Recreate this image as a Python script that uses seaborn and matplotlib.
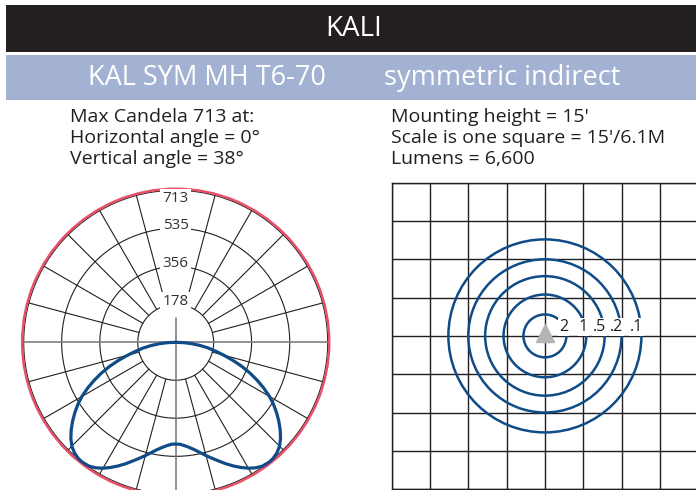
import numpy as np
import seaborn as sns
import matplotlib.pyplot as plt
from matplotlib.patches import Rectangle, Circle
from matplotlib.transforms import offset_copy

# header / info text
title = 'KALI'
model = 'KAL SYM MH T6-70'
distribution = 'symmetric indirect'
left_info = ['Max Candela 713 at:', 'Horizontal angle = 0°', 'Vertical angle = 38°']
right_info = ["Mounting height = 15'", "Scale is one square = 15'/6.1M", 'Lumens = 6,600']

# candela curve (vertical angle from nadir, deg) - symmetric about nadir
vert_angles = [0, 2.5, 5, 7.5, 10, 12.5, 15, 17.5, 20, 22.5, 25, 27.5, 30, 32.5, 35, 38,
               40, 42.5, 45, 47.5, 50, 52.5, 55, 57.5, 60, 62.5, 65, 67.5, 70, 72.5, 75,
               77.5, 80, 82.5, 85, 87.5, 90]
candela = [477, 479, 487, 498, 512, 530, 550, 571, 593, 617, 640, 662, 682, 698, 709, 713,
           711, 703, 689, 667, 640, 610, 578, 545, 508, 466, 422, 377, 330, 281, 233,
           192, 155, 117, 78, 39, 0]
ring_values = [178, 356, 535, 713]
spoke_angles = [15, 30, 45, 60, 75, 105, 120, 135, 150, 165]

# isolux plot (radii in grid squares)
iso_labels = ['2', '1', '.5', '.2', '.1']
iso_radii = [0.56, 1.08, 1.56, 2.0, 2.52]
grid_half = 4

BLACK = '#231f20'
BLUE = '#0f4c87'
RED = '#e8506a'
HEADER_BLUE = '#a3b1d3'

sns.set_style('white')
plt.rcParams['font.family'] = ['Open Sans', 'DejaVu Sans']

W, H = 696, 490
fig = plt.figure(figsize=(W / 100, H / 100), dpi=100)


def fx(px):
    return px / W


def fy(py):
    return 1 - py / H


# header bars
fig.add_artist(Rectangle((fx(6), fy(52.5)), 1, (52.5 - 5) / H, transform=fig.transFigure,
                         color=BLACK, lw=0))
fig.add_artist(Rectangle((fx(6), fy(100)), 1, (100 - 55) / H, transform=fig.transFigure,
                         color=HEADER_BLUE, lw=0))
fig.text(fx(354), fy(29), title, color='white', fontsize=20, ha='center', va='center')
fig.text(fx(88), fy(78), model, color='white', fontsize=19.5, ha='left', va='center')
fig.text(fx(384), fy(78), distribution, color='white', fontsize=19.5, ha='left', va='center')

for i, line in enumerate(left_info):
    fig.text(fx(70), fy(121.5 + 21.5 * i), line, color=BLACK, fontsize=14, va='baseline')
for i, line in enumerate(right_info):
    fig.text(fx(391), fy(121.5 + 21.5 * i), line, color=BLACK, fontsize=14, va='baseline')

"""
Polar candela plot
"""
rmax = max(ring_values)
rlim = rmax * 1.01
R = 152 * rlim / rmax
cx, cy = 175.7, 342.3
ax = fig.add_axes([fx(cx - R), fy(cy + R), 2 * R / W, 2 * R / H], projection='polar')
ax.set_theta_zero_location('S')
ax.set_ylim(0, rlim)
ax.grid(False)
ax.set_xticks([])
ax.set_yticks([])
ax.spines['polar'].set_color(RED)
ax.spines['polar'].set_linewidth(1.8)
ax.set_facecolor('white')

full = np.linspace(0, 2 * np.pi, 361)
for r in ring_values:
    ax.plot(full, np.full_like(full, r), color=BLACK, lw=0.8, zorder=1)
for a in spoke_angles:
    for s in (1, -1):
        t = np.radians(s * a)
        ax.plot([t, t], [ring_values[0], rmax], color=BLACK, lw=0.8, zorder=1)
# axis lines (grey)
for t in (np.pi / 2, -np.pi / 2):
    ax.plot([t, t], [0, rlim], color='#7f7f7f', lw=1.2, zorder=1)
ax.plot([0, 0], [0, rlim], color='#7f7f7f', lw=1.2, zorder=1)
ax.plot([np.pi, np.pi], [0, 112], color='#7f7f7f', lw=1.2, zorder=1)

for r in ring_values:
    off = -5.8 if r == rmax else 2
    ax.annotate(str(r), (np.pi, r), xytext=(0, off), textcoords='offset points',
                ha='center', va='center', fontsize=11, color='#333333', zorder=4,
                bbox=dict(boxstyle='square,pad=0.15', fc='white', ec='none'))

ang = np.array(vert_angles, dtype=float)
cd = np.array(candela, dtype=float)
theta = np.radians(np.concatenate([-ang[::-1], ang[1:]]))
rr = np.concatenate([cd[::-1], cd[1:]])
sns.lineplot(x=theta, y=rr, sort=False, ax=ax, color=BLUE, lw=2.3, zorder=5)
ax.set_xlabel('')
ax.set_ylabel('')

"""
Isolux grid plot
"""
sq = 38.3
gx0, gy0 = 391.7, 182.7
ax2 = fig.add_axes([fx(gx0), fy(gy0 + 2 * grid_half * sq), 2 * grid_half * sq / W,
                    2 * grid_half * sq / H])
ax2.set_xlim(-grid_half, grid_half)
ax2.set_ylim(-grid_half, grid_half)
ax2.set_xticks(range(-grid_half, grid_half + 1))
ax2.set_yticks(range(-grid_half, grid_half + 1))
ax2.tick_params(length=0, labelbottom=False, labelleft=False)
ax2.grid(True, color=BLACK, lw=1.0)
ax2.set_axisbelow(True)
for sp in ax2.spines.values():
    sp.set_color(BLACK)
    sp.set_linewidth(1.0)

for r in iso_radii:
    ax2.add_patch(Circle((0, 0), r, fill=False, ec=BLUE, lw=1.8, zorder=3))
for lab, r in zip(iso_labels, iso_radii):
    ax2.text(r + 0.04, 0.24, lab, ha='right', va='center', fontsize=11.5, color=BLACK, zorder=4,
             bbox=dict(boxstyle='square,pad=0.05', fc='white', ec='none'))
tri_tr = offset_copy(ax2.transData, fig=fig, y=2.3, units='points')
ax2.plot([0], [0], marker='^', ms=13, color='#b4b4b6', lw=0, zorder=5, transform=tri_tr)

fig.savefig('out.png', dpi=100)
